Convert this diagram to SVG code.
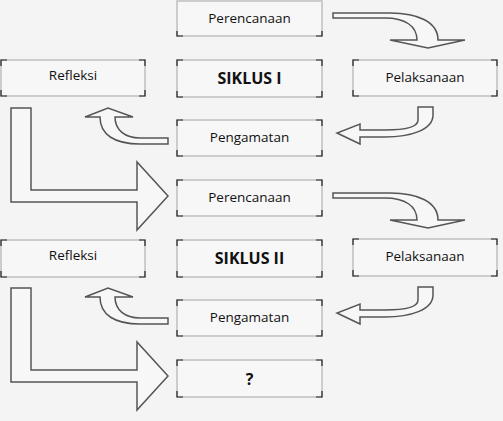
<svg xmlns="http://www.w3.org/2000/svg" width="503" height="421" viewBox="0 0 503 421">
<defs>
<style>
.bg{fill:#f4f4f4}
.box{fill:#f7f7f7;stroke:#c2c2c2;stroke-width:1.6}
.cor{fill:none;stroke:#222;stroke-width:1.2}
.t{font-family:"Open Sans","DejaVu Sans",sans-serif;font-size:13.5px;fill:#111;text-anchor:middle}
.b{font-family:"Open Sans","DejaVu Sans",sans-serif;font-size:16px;font-weight:bold;fill:#111;text-anchor:middle}
.arr{fill:#f7f7f7;stroke:#555;stroke-width:1.5;stroke-linejoin:miter}
</style>
</defs>
<rect class="bg" x="0" y="0" width="503" height="421"/>
<g id="connectors">
<path class="arr" d="M333,13 L390,13 C418,13 438,22 438,40 L465,40 L428,48 L390,40 L417,40 C417,26 405,18 385,18 L333,18 Z"/>
<path class="arr" d="M418,107 L433,107 L433,115 C433,130 410,137 385,137 L360,137 L360,144 L337,133 L360,124 L360,130 L385,130 C405,130 418,127 418,120 Z"/>
<path class="arr" d="M168,138 L168,144 L140,144 C115,144 100,135 100,117 L85,117 L108,108 L133,117 L115,117 C115,130 125,138 140,138 Z"/>
<path class="arr" d="M11,108 L31,108 L31,190 L137,190 L137,162 L168,196 L137,230 L137,202 L11,202 Z"/>
<g transform="translate(0,180)">
<path class="arr" d="M333,13 L390,13 C418,13 438,22 438,40 L465,40 L428,48 L390,40 L417,40 C417,26 405,18 385,18 L333,18 Z"/>
<path class="arr" d="M418,107 L433,107 L433,115 C433,130 410,137 385,137 L360,137 L360,144 L337,133 L360,124 L360,130 L385,130 C405,130 418,127 418,120 Z"/>
<path class="arr" d="M168,138 L168,144 L140,144 C115,144 100,135 100,117 L85,117 L108,108 L133,117 L115,117 C115,130 125,138 140,138 Z"/>
<path class="arr" d="M11,108 L31,108 L31,190 L137,190 L137,162 L168,196 L137,230 L137,202 L11,202 Z"/>
</g>
</g>
<g id="perencanaan1"><rect class="box" x="177" y="1" width="145" height="35"/><path class="cor" d="M177,31V36H183M322,31V36H316"/><text class="t" x="249.5" y="23">Perencanaan</text></g>
<g id="siklus1"><rect class="box" x="177" y="60" width="145" height="37"/><path class="cor" d="M177,66V60H183M316,60H322V66M177,91V97H183M322,91V97H316"/><text class="b" x="249.5" y="84">SIKLUS I</text></g>
<g id="refleksi1"><rect class="box" x="1" y="60" width="144" height="36"/><path class="cor" d="M1,66V60H7M139,60H145V66M1,90V96H7M145,90V96H139"/><text class="t" x="73" y="80">Refleksi</text></g>
<g id="pelaksanaan1"><rect class="box" x="353" y="60" width="144" height="36"/><path class="cor" d="M353,66V60H359M491,60H497V66M353,90V96H359M497,90V96H491"/><text class="t" x="425" y="82">Pelaksanaan</text></g>
<g id="pengamatan1"><rect class="box" x="177" y="120" width="145" height="36"/><path class="cor" d="M177,126V120H183M316,120H322V126M177,150V156H183M322,150V156H316"/><text class="t" x="249.5" y="142">Pengamatan</text></g>
<g id="perencanaan2"><rect class="box" x="177" y="180" width="145" height="36"/><path class="cor" d="M177,186V180H183M316,180H322V186M177,210V216H183M322,210V216H316"/><text class="t" x="249.5" y="202">Perencanaan</text></g>
<g id="siklus2"><rect class="box" x="177" y="240" width="145" height="37"/><path class="cor" d="M177,246V240H183M316,240H322V246M177,271V277H183M322,271V277H316"/><text class="b" x="249.5" y="264">SIKLUS II</text></g>
<g id="refleksi2"><rect class="box" x="1" y="240" width="144" height="37"/><path class="cor" d="M1,246V240H7M139,240H145V246M1,271V277H7M145,271V277H139"/><text class="t" x="73" y="260">Refleksi</text></g>
<g id="pelaksanaan2"><rect class="box" x="353" y="239" width="144" height="37"/><path class="cor" d="M353,245V239H359M491,239H497V245M353,270V276H359M497,270V276H491"/><text class="t" x="425" y="261">Pelaksanaan</text></g>
<g id="pengamatan2"><rect class="box" x="177" y="300" width="145" height="36"/><path class="cor" d="M177,306V300H183M316,300H322V306M177,330V336H183M322,330V336H316"/><text class="t" x="249.5" y="322">Pengamatan</text></g>
<g id="unknown"><rect class="box" x="177" y="360" width="145" height="37"/><path class="cor" d="M177,366V360H183M316,360H322V366M177,391V397H183M322,391V397H316"/><text class="b" x="249.5" y="385">?</text></g>
</svg>
